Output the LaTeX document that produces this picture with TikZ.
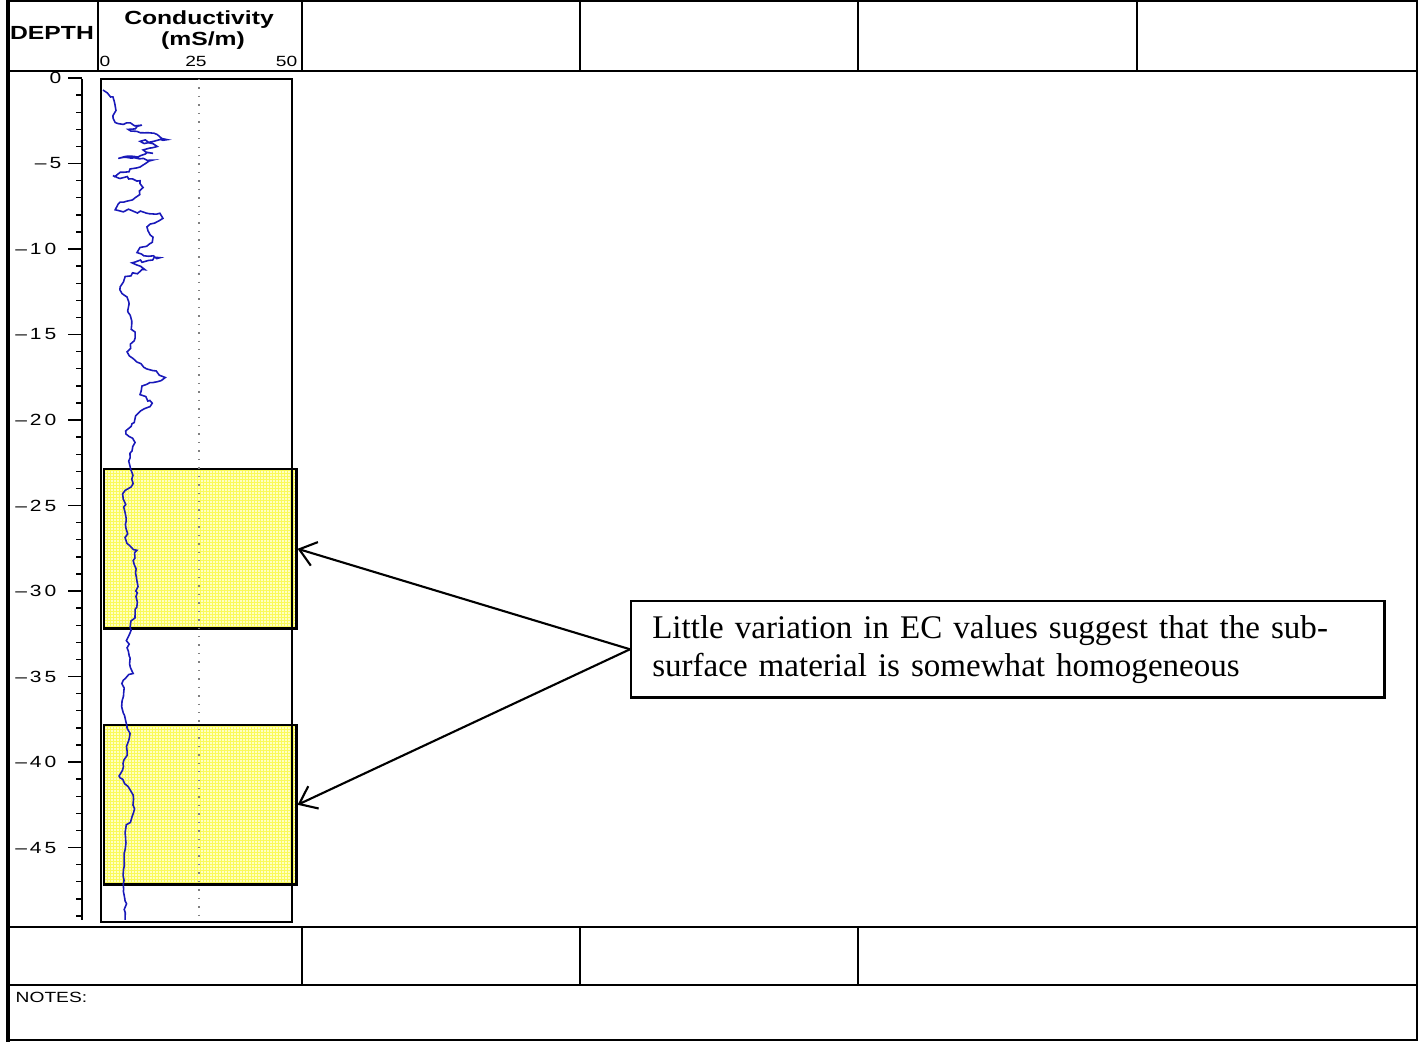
\documentclass[tikz,border=0pt]{standalone}
\usepackage{fontspec}
\setmainfont{Liberation Serif}
\newfontfamily\formfont[FakeStretch=1.3]{Liberation Sans}
\newfontfamily\tickfont[FakeStretch=1.3,LetterSpace=18]{Liberation Sans}
\usepackage{tikz}
\usetikzlibrary{arrows.meta, positioning, decorations.pathmorphing}
\definecolor{tracecol}{RGB}{25,25,185}
\definecolor{zonefill}{RGB}{255,255,195}
\definecolor{zonegrid}{RGB}{250,250,90}

\begin{document}
\begin{tikzpicture}[x=0.01cm, y=-0.01cm,
	formline/.style={line width=0.8pt},
	thinline/.style={line width=0.4pt},
	hdr/.style={font=\formfont\bfseries\fontsize{5.4}{6}\selectfont, inner sep=0pt},
	depthlbl/.style={font=\tickfont\fontsize{4.6}{5}\selectfont, inner sep=0pt, anchor=east},
	scalelbl/.style={font=\formfont\fontsize{4.2}{5}\selectfont, inner sep=0pt},
	zone/.style={draw, line width=0.7pt, fill=zonefill, minimum width=1.92cm, minimum height=1.59cm, inner sep=0pt, anchor=north west,
		path picture={\draw[zonegrid, line width=0.2pt, step=0.03cm] (path picture bounding box.south west) grid (path picture bounding box.north east);}},
	notebox/.style={draw, line width=0.7pt, text width=7.11cm, inner xsep=0.21cm, minimum height=0.96cm, align=left, anchor=north west,
		font=\fontsize{9.4}{10.8}\selectfont},
	pointer/.style={-{Straight Barb[length=4.5pt, width=7pt]}, line width=0.6pt},
	trace/.style={tracecol, line width=0.45pt, decorate, decoration={random steps, segment length=1.2pt, amplitude=0.5pt}}
	]
	\useasboundingbox (0,0) rectangle (1419,1042);
	
	% Form frame
	\draw[formline] (8,1) rectangle (1417,1040);
	\draw[line width=1.2pt] (8,0) -- (8,1042);
	\draw[formline] (8,71) -- (1417,71);
	\foreach \x in {98,302,580,858,1137}
		\draw[thinline] (\x,1) -- (\x,71);
	\draw[formline] (8,927) -- (1417,927);
	\draw[formline] (8,985) -- (1417,985);
	\foreach \x in {302,580,858}
		\draw[thinline] (\x,927) -- (\x,985);
	
	% Header
	\node[hdr] (depthhdr) at (52,33) {DEPTH};
	\node[hdr] (condhdr) at (199,20) {Conductivity};
	\node[hdr] (unithdr) at (203,41) {(mS/m)};
	\node[scalelbl, anchor=west] (s0) at (99,61) {0};
	\node[scalelbl] (s25) at (196,61) {25};
	\node[scalelbl, anchor=east] (s50) at (298,61) {50};
	\node[scalelbl, anchor=west] (notes) at (15,997) {NOTES:};
	
	% Depth axis
	\draw[thinline] (82,79) -- (82,920);
	\foreach \d in {0,...,49}
		\draw[thinline] (82,{78+17.1*\d}) -- ++(-6,0);
	\foreach \d in {0,5,...,45} {
		\draw[thinline] (82,{78+17.1*\d}) -- ++(-14,0);
		\ifnum\d<10
			\node[depthlbl] (d\d) at (62,{78+17.1*\d}) {\ifnum\d=0 0\else –\d\fi};
		\else
			\node[depthlbl] (d\d) at (57,{78+17.1*\d}) {–\d};
		\fi
	}
	
	% Conductivity track
	\node[zone] (upper) at (103,468) {};
	\node[zone] (lower) at (103,724) {};
	\draw[thinline] (101,79) rectangle (292,922);
	\draw[dotted, gray, thinline] (199,79) -- (199,922);
	
	% Log curve (mS/m against depth)
	\begin{scope}[xshift=1.01cm, yshift=-0.78cm, x=0.0382cm, y=-0.171cm]
		\draw[trace] plot coordinates {(0.5,0.7) (3.1,1.1) (3.9,1.9) (3.1,2.2) (3.7,2.6) (10.7,2.75) (7.1,3.0) (14.7,3.3) (17.3,3.6) (10.2,3.7) (14.7,4.0) (11.0,4.2) (13.6,4.4) (4.5,4.7) (13.4,4.8) (10.2,5.2) (3.1,5.7) (10.2,6.0) (11.0,6.4) (8.9,7.0) (5.0,7.25) (3.7,7.7) (15.4,7.9) (16.2,8.2) (12.0,8.7) (13.6,9.3) (13.4,9.6) (10.2,9.9) (9.4,10.2) (15.4,10.5) (8.1,10.8) (11.5,11.2) (6.3,11.6) (5.0,12.2) (5.5,12.6) (6.8,12.8) (7.1,13.7) (8.9,15.2) (6.8,16.0) (9.4,16.6) (13.6,17.1) (16.8,17.5) (10.7,18.0) (10.2,18.5) (13.4,19.0) (9.7,19.6) (8.1,20.2) (6.5,20.8) (8.9,21.3) (7.6,22.2) (7.6,22.7) (8.4,23.7) (6.3,24.1) (5.8,24.6) (6.3,25.4) (6.8,27.2) (9.4,27.6) (8.4,28.2) (9.4,29.4) (8.9,31.3) (7.6,32.1) (6.8,33.3) (7.6,33.9) (8.4,34.8) (5.8,35.2) (5.5,36.4) (5.8,37.1) (6.8,38.0) (7.6,38.3) (6.8,39.3) (5.0,40.9) (7.6,41.6) (8.4,41.9) (8.4,43.0) (6.5,43.8) (6.3,45.1) (5.8,47.1) (6.3,48.1) (6.3,49.2)};
	\end{scope}
	
	% Annotation
	\node[notebox] (note) at (630,600) {Little variation in EC values suggest that the sub-\\surface material is somewhat homogeneous};
	\draw[pointer] (note.west) -- (upper.east);
	\draw[pointer] (note.west) -- (lower.east);
\end{tikzpicture}
\end{document}
